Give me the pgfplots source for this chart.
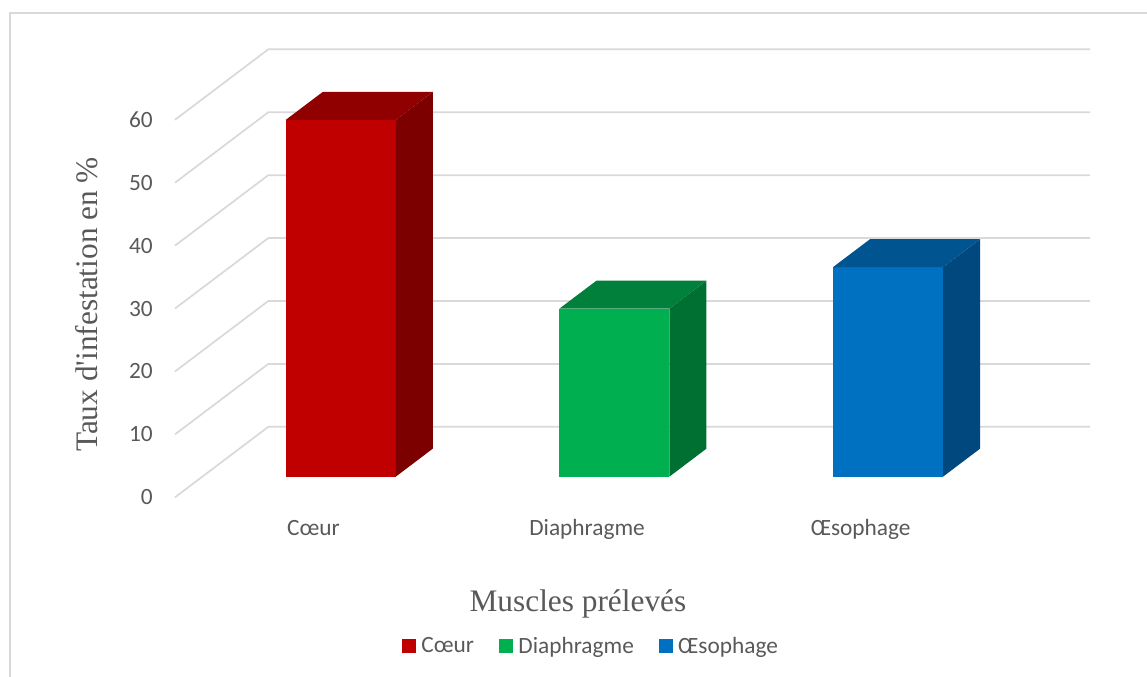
\documentclass[border=0pt]{standalone}
\usepackage{fontspec}
\setmainfont{Carlito}
\newfontfamily\timesf{Liberation Serif}
\usepackage{pgfplots}
\usepackage{pgfplotstable}
\pgfplotsset{compat=1.18}
\definecolor{gridc}{HTML}{D9D9D9}
\definecolor{txt}{HTML}{595959}
\definecolor{redF}{HTML}{C00000}\definecolor{redT}{HTML}{910000}\definecolor{redS}{HTML}{7D0000}
\definecolor{grnF}{HTML}{00B050}\definecolor{grnT}{HTML}{00803A}\definecolor{grnS}{HTML}{007032}
\definecolor{bluF}{HTML}{0070C0}\definecolor{bluT}{HTML}{005591}\definecolor{bluS}{HTML}{00487D}

% bar values (%)
\pgfplotstableread{
pos value
1 56.7
2 26.7
3 33.3
}\bardata
% unit faces of a bar: sx = side (-1/+1), d = depth (0 front .. 1 back), sv = 0 bottom / 1 top
\pgfplotstableread{
sx d sv
-1 0.293 0
1 0.293 0
1 0.293 1
-1 0.293 1
}\frontface
\pgfplotstableread{
sx d sv
1 0.293 0
1 0.69 0
1 0.69 1
1 0.293 1
}\sideface
\pgfplotstableread{
sx d sv
-1 0.293 1
1 0.293 1
1 0.69 1
-1 0.69 1
}\topface
\pgfplotstableread{
x d
0.4942 0
0.4942 1
3.497 1
}\gridpath

\pgfplotstablegetelem{0}{value}\of\bardata\edef\Va{\pgfplotsretval}
\pgfplotstablegetelem{1}{value}\of\bardata\edef\Vb{\pgfplotsretval}
\pgfplotstablegetelem{2}{value}\of\bardata\edef\Vc{\pgfplotsretval}

\begin{document}
\begin{tikzpicture}
\path[use as bounding box] (0,0) rectangle (860.25pt,-507.75pt);
\draw[gridc, line width=1.4pt] (7.5pt,-510pt) -- (7.5pt,-10pt) -- (862pt,-10pt);
\begin{axis}[
  at={(131.25pt,-372.975pt)}, anchor=south west,
  scale only axis, width=686.25pt, height=336pt,
  xmin=0.4942, xmax=3.838, ymin=0, ymax=71.2,
  clip=false,
  axis line style={draw=none},
  major tick length=0pt,
  xtick={1,2,3},
  xticklabels={Cœur,Diaphragme,Œsophage},
  ytick={0,10,...,60},
  /pgf/number format/assume math mode=true,
  yticklabel style={anchor=east, inner sep=0pt, xshift=-16.5pt, font=\fontsize{17.5pt}{20pt}\selectfont, text=txt},
  xticklabel style={anchor=base, inner sep=0pt, yshift=-28.3pt, font=\fontsize{17.5pt}{20pt}\selectfont, text=txt},
  xlabel={Muscles prélevés},
  xlabel style={at={(axis description cs:0.4404,-0.2554)}, anchor=base, inner sep=0pt, font={\timesf\fontsize{23.5pt}{26pt}\selectfont}, text=txt},
  ylabel={Taux d\textquotesingle infestation en \%},
  ylabel style={at={(axis description cs:-0.0847,0.4304)}, anchor=base, rotate=0, inner sep=0pt, font={\timesf\fontsize{23.5pt}{26pt}\selectfont}, text=txt},
  legend columns=3,
  legend style={at={(axis description cs:0.4538,-0.3317)}, anchor=center, draw=none, fill=none,
    inner sep=0pt, font=\fontsize{17.5pt}{20pt}\selectfont, text=txt,
    nodes={inner sep=0pt},
    /tikz/every odd column/.append style={column sep=3.75pt},
    /tikz/every even column/.append style={column sep=19pt}},
  legend image code/.code={\fill[#1] (0pt,-5.25pt) rectangle (10.5pt,5.25pt);},
]
% gridlines (floor-to-back-wall, Excel 3D style)
\pgfplotsinvokeforeach{0,10,20,30,40,50,60}{
  \addplot[gridc, line width=1.3pt, mark=none, forget plot]
    table[x expr=\thisrow{x}+0.341*\thisrow{d}, y expr=#1+11.2*\thisrow{d}] {\gridpath};
}
% Coeur
\addplot[fill=redF, draw=none, mark=none]
  table[x expr=1+0.201*\thisrow{sx}+0.341*\thisrow{d}, y expr=\Va*\thisrow{sv}+11.2*\thisrow{d}] {\frontface};
\addlegendentry{Cœur}
\addplot[fill=redS, draw=none, mark=none, forget plot]
  table[x expr=1+0.201*\thisrow{sx}+0.341*\thisrow{d}, y expr=\Va*\thisrow{sv}+11.2*\thisrow{d}] {\sideface};
\addplot[fill=redT, draw=none, mark=none, forget plot]
  table[x expr=1+0.201*\thisrow{sx}+0.341*\thisrow{d}, y expr=\Va*\thisrow{sv}+11.2*\thisrow{d}] {\topface};
% Diaphragme
\addplot[fill=grnF, draw=none, mark=none]
  table[x expr=2+0.201*\thisrow{sx}+0.341*\thisrow{d}, y expr=\Vb*\thisrow{sv}+11.2*\thisrow{d}] {\frontface};
\addlegendentry{Diaphragme}
\addplot[fill=grnS, draw=none, mark=none, forget plot]
  table[x expr=2+0.201*\thisrow{sx}+0.341*\thisrow{d}, y expr=\Vb*\thisrow{sv}+11.2*\thisrow{d}] {\sideface};
\addplot[fill=grnT, draw=none, mark=none, forget plot]
  table[x expr=2+0.201*\thisrow{sx}+0.341*\thisrow{d}, y expr=\Vb*\thisrow{sv}+11.2*\thisrow{d}] {\topface};
% Oesophage
\addplot[fill=bluF, draw=none, mark=none]
  table[x expr=3+0.201*\thisrow{sx}+0.341*\thisrow{d}, y expr=\Vc*\thisrow{sv}+11.2*\thisrow{d}] {\frontface};
\addlegendentry{Œsophage}
\addplot[fill=bluS, draw=none, mark=none, forget plot]
  table[x expr=3+0.201*\thisrow{sx}+0.341*\thisrow{d}, y expr=\Vc*\thisrow{sv}+11.2*\thisrow{d}] {\sideface};
\addplot[fill=bluT, draw=none, mark=none, forget plot]
  table[x expr=3+0.201*\thisrow{sx}+0.341*\thisrow{d}, y expr=\Vc*\thisrow{sv}+11.2*\thisrow{d}] {\topface};
\end{axis}
\end{tikzpicture}
\end{document}
